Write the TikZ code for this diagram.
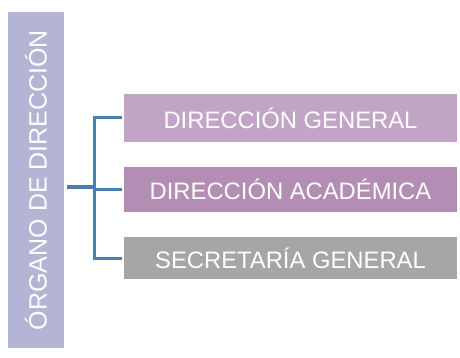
\documentclass[tikz,border=0pt]{standalone}
\usepackage{fontspec}
\setmainfont{Liberation Sans}
\usetikzlibrary{positioning,calc}
\definecolor{organo}{HTML}{B4B5D4}
\definecolor{dirgen}{HTML}{C2A4C6}
\definecolor{diraca}{HTML}{B38DB4}
\definecolor{secgen}{HTML}{A6A6A6}
\definecolor{rama}{HTML}{4A7DB0}

\begin{document}
\begin{tikzpicture}[x=1pt,y=-1pt,
  organo box/.style={fill=organo,text=white,rotate=90,minimum width=336pt,minimum height=56pt,inner sep=0pt,font=\fontsize{25}{25}\selectfont},
  unidad/.style={text=white,minimum width=333pt,inner sep=0pt,font=\fontsize{23.8}{24}\selectfont},
  conector/.style={draw=rama,line width=3pt}]
\useasboundingbox (0,0) rectangle (460,358);
\node[organo box] (organo) at (36,180) {ÓRGANO DE DIRECCIÓN};
\node[unidad,fill=dirgen,minimum height=48pt] (general) at (290.5,118) {DIRECCIÓN GENERAL};
\node[unidad,fill=diraca,minimum height=45pt] (academica) at (290.5,189.5) {DIRECCIÓN ACADÉMICA};
\node[unidad,fill=secgen,minimum height=42pt] (secretaria) at (290.5,258) {SECRETARÍA GENERAL};
\coordinate (salida) at (67,187);
\coordinate (tronco) at (94,187);
\draw[conector] (salida) -- (tronco);
\draw[conector] (general.west) ++(-2,0) -| (tronco |- secretaria.west) -- ($(secretaria.west)+(-2,0)$);
\draw[conector] (tronco |- academica.west) -- ($(academica.west)+(-2,0)$);
\end{tikzpicture}
\end{document}
